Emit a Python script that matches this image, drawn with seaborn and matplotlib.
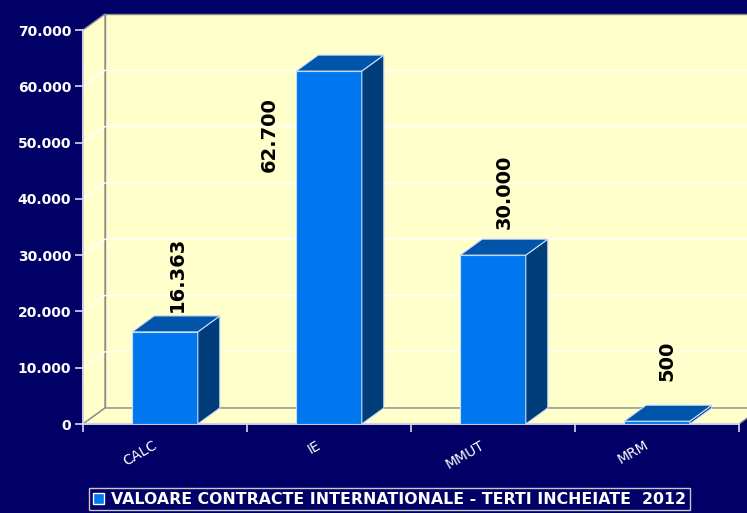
import matplotlib
matplotlib.use("Agg")
import matplotlib.pyplot as plt
from matplotlib.patches import Polygon, Patch
import pandas as pd
import seaborn as sns

categories = ["CALC", "IE", "MMUT", "MRM"]
values = [16363, 62700, 30000, 500]
value_labels = ["16.363", "62.700", "30.000", "500"]
y_ticks = [0, 10000, 20000, 30000, 40000, 50000, 60000, 70000]
y_tick_labels = ["0", "10.000", "20.000", "30.000", "40.000", "50.000", "60.000", "70.000"]
series_name = "VALOARE CONTRACTE INTERNATIONALE - TERTI INCHEIATE  2012"

NAVY = "#000066"
WALL = "#FFFFCC"
FRONT = "#0077EE"
TOP = "#0055AA"
SIDE = "#003D7A"
EDGE = "#C8DCF8"
GRAY = "#8C8C8C"
LIGHT = "#D8D8E8"

# label placement (pixels relative to bar top centre)
label_offsets = [(12, 20, "bottom"), (-60, -26, "top"), (11, 26, "bottom"), (10, 40, "bottom")]

W, H = 747, 513
fig = plt.figure(figsize=(W / 100, H / 100), dpi=100, facecolor=NAVY)
ax = fig.add_axes([83 / W, 1 - 424 / H, 656 / W, 394 / H])
ax.set_facecolor("none")

df = pd.DataFrame({"cat": categories, "val": values})
sns.barplot(data=df, x="cat", y="val", color=FRONT, width=0.4, saturation=1,
            edgecolor=EDGE, linewidth=0.8, zorder=3, ax=ax)
bars = list(ax.patches)

YMAX = 70000
ax.set_xlim(-0.5, len(categories) - 0.5)
ax.set_ylim(0, YMAX)

# depth of the 3d box in data units (22 px right, 16 px up)
DX = 22 / 164
DY = 16 * YMAX / 394
x0, x1 = -0.5, len(categories) - 0.5

# walls
ax.add_patch(Polygon([(x0 + DX, DY), (x1 + DX, DY), (x1 + DX, YMAX + DY), (x0 + DX, YMAX + DY)],
                     closed=True, facecolor=WALL, edgecolor=GRAY, lw=1, clip_on=False, zorder=0))
ax.add_patch(Polygon([(x0, 0), (x0 + DX, DY), (x0 + DX, YMAX + DY), (x0, YMAX)],
                     closed=True, facecolor=WALL, edgecolor=GRAY, lw=1, clip_on=False, zorder=0))
ax.add_patch(Polygon([(x0, 0), (x1, 0), (x1 + DX, DY), (x0 + DX, DY)],
                     closed=True, facecolor=WALL, edgecolor=GRAY, lw=1, clip_on=False, zorder=0))
for y in y_ticks[1:-1]:
    ax.plot([x0, x0 + DX, x1 + DX], [y, y + DY, y + DY], color="white", lw=1,
            clip_on=False, zorder=1)

# 3d faces of each bar
for p in bars:
    bx, bw, bh = p.get_x(), p.get_width(), p.get_height()
    ax.add_patch(Polygon([(bx + bw, 0), (bx + bw + DX, DY), (bx + bw + DX, bh + DY), (bx + bw, bh)],
                         closed=True, facecolor=SIDE, edgecolor=EDGE, lw=0.8, clip_on=False, zorder=3))
    ax.add_patch(Polygon([(bx, bh), (bx + bw, bh), (bx + bw + DX, bh + DY), (bx + DX, bh + DY)],
                         closed=True, facecolor=TOP, edgecolor=EDGE, lw=0.8, clip_on=False, zorder=3))

# axes styling
for s in ["top", "right"]:
    ax.spines[s].set_visible(False)
for s in ["left", "bottom"]:
    ax.spines[s].set_color(LIGHT)
    ax.spines[s].set_linewidth(1.3)
ax.set_xlabel("")
ax.set_ylabel("")
ax.set_yticks(y_ticks, y_tick_labels)
ax.tick_params(axis="y", colors=LIGHT, labelcolor="white", length=6, width=1.2, pad=2.5, labelsize=10)
for lbl in ax.get_yticklabels():
    lbl.set_fontweight("bold")
ax.set_xticks(range(len(categories)), [""] * len(categories))
ax.set_xticks([i - 0.5 for i in range(len(categories) + 1)], minor=True)
ax.tick_params(axis="x", which="major", length=0)
ax.tick_params(axis="x", which="minor", colors=LIGHT, length=6, width=1.2)

PT = 0.72
for i, cat in enumerate(categories):
    ax.annotate(cat, xy=(i, 0), xytext=(-9 * PT, -20 * PT), textcoords="offset points",
                rotation=30, rotation_mode="anchor", ha="right", va="center",
                color="white", fontsize=10, annotation_clip=False)

for i, (v, txt) in enumerate(zip(values, value_labels)):
    ox, oy, va = label_offsets[i]
    ax.annotate(txt, xy=(i, v), xytext=(ox * PT, oy * PT), textcoords="offset points",
                rotation=90, ha="center", va=va, fontsize=14, fontweight="bold",
                color="black", zorder=5, annotation_clip=False)

handle = Patch(facecolor=FRONT, edgecolor="white", lw=1)
leg = fig.legend([handle], [series_name], loc="center", bbox_to_anchor=(389.5 / W, 1 - 499 / H),
                 frameon=True, fancybox=False, facecolor=NAVY, edgecolor="#C8C8C8", framealpha=1,
                 prop={"weight": "bold", "size": 11.3}, labelcolor="white",
                 handlelength=0.7, handleheight=0.7, handletextpad=0.4, borderpad=0.25,
                 borderaxespad=0)

fig.savefig("out.png", dpi=100, facecolor=NAVY)
